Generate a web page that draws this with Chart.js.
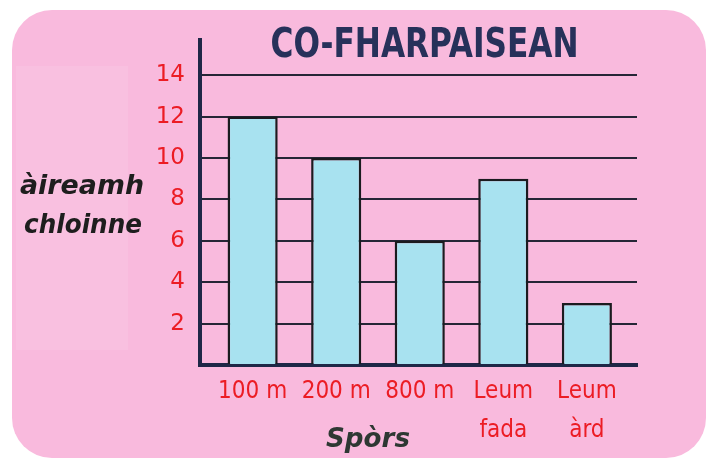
<!DOCTYPE html>
<html>
<head>
<meta charset="utf-8">
<title>CO-FHARPAISEAN</title>
<script src="https://cdn.jsdelivr.net/npm/chart.js@4.4.1/dist/chart.umd.min.js"></script>
<style>
  html, body { margin: 0; padding: 0; background: #ffffff; }
  #wrap { width: 715px; height: 464px; }
</style>
</head>
<body>
<div id="wrap"><canvas id="barchart" width="715" height="464"></canvas></div>
<script>
// sports day entries: number of children per event
var sports = ['100 m', '200 m', '800 m', ['Leum', 'fada'], ['Leum', 'àrd']];
var children = [12, 10, 6, 9, 3];
var yTicks = [0, 2, 4, 6, 8, 10, 12, 14];

var chartTitle = 'CO-FHARPAISEAN';
var yTitle = ['àireamh', 'chloinne'];
var xTitle = 'Spòrs';

var fontFamily = '"Comic Sans MS", "DejaVu Sans", sans-serif';
var narrowFamily = '"Comic Sans MS", "Liberation Sans Narrow", "DejaVu Sans Condensed", sans-serif';
var red = '#ec1c24';
var ink = '#1f2747';

// bars sit on a numeric x axis so the first bar can start a little way in from the y axis
var points = [];
for (var i = 0; i < children.length; i++) {
  points.push({ x: i, y: children[i] });
}

// pink card behind the chart + the free-standing titles
var decorations = {
  id: 'decorations',
  beforeDraw: function(chart) {
    var ctx = chart.ctx;
    ctx.save();
    ctx.fillStyle = '#ffffff';
    ctx.fillRect(0, 0, chart.width, chart.height);
    ctx.fillStyle = '#f9badd';
    ctx.beginPath();
    ctx.roundRect(12, 10, 694, 448, 40);
    ctx.fill();
    ctx.fillStyle = 'rgba(255, 255, 255, 0.09)';
    ctx.fillRect(16, 66, 112, 284);
    ctx.restore();
  },
  afterDraw: function(chart) {
    var ctx = chart.ctx;
    var area = chart.chartArea;
    ctx.save();
    ctx.textAlign = 'center';
    ctx.textBaseline = 'middle';

    ctx.fillStyle = '#27315a';
    ctx.font = 'bold 40px "DejaVu Sans Condensed", ' + fontFamily;
    ctx.fillText(chartTitle, (area.left + area.right) / 2 + 6, 47, 308);

    ctx.fillStyle = '#1e1e1e';
    ctx.font = 'italic bold 27px ' + fontFamily;
    ctx.fillText(yTitle[0], 82, 187, 124);
    ctx.fillText(yTitle[1], 83, 226, 118);

    ctx.fillStyle = '#2e3833';
    ctx.fillText(xTitle, 368, 440, 84);
    ctx.restore();
  }
};

var ctx = document.getElementById('barchart').getContext('2d');
var myChart = new Chart(ctx, {
  type: 'bar',
  data: {
    datasets: [{
      label: 'àireamh chloinne',
      data: points,
      backgroundColor: '#a8e2f0',
      borderColor: '#1b1b1f',
      borderWidth: 2.5,
      barPercentage: 0.6,
      categoryPercentage: 1
    }]
  },
  options: {
    responsive: false,
    animation: false,
    layout: { padding: { top: 40, right: 78, left: 0, bottom: 0 } },
    plugins: {
      legend: { display: false },
      title: { display: false },
      tooltip: { enabled: false }
    },
    scales: {
      x: {
        type: 'linear',
        offset: false,
        min: -0.63,
        max: 4.6,
        afterBuildTicks: function(scale) {
          scale.ticks = sports.map(function(s, i) { return { value: i }; });
        },
        grid: { display: false, drawTicks: false, offset: false },
        border: { display: true, color: ink, width: 4 },
        ticks: {
          color: red,
          padding: 8,
          autoSkip: false,
          maxRotation: 0,
          font: { family: narrowFamily, size: 24, lineHeight: 1.6 },
          callback: function(value) { return sports[value]; }
        },
        afterFit: function(scale) { scale.height = 99; }
      },
      y: {
        min: 0,
        max: 15.7,
        afterBuildTicks: function(scale) {
          scale.ticks = yTicks.map(function(v) { return { value: v }; });
        },
        grid: { color: '#262636', lineWidth: 2, drawTicks: false },
        border: { display: true, color: ink, width: 4 },
        ticks: {
          color: red,
          padding: 15,
          font: { family: fontFamily, size: 23 },
          callback: function(value) { return value === 0 ? '' : value; }
        },
        afterFit: function(scale) { scale.width = 200; }
      }
    }
  },
  plugins: [decorations]
});
</script>
</body>
</html>
